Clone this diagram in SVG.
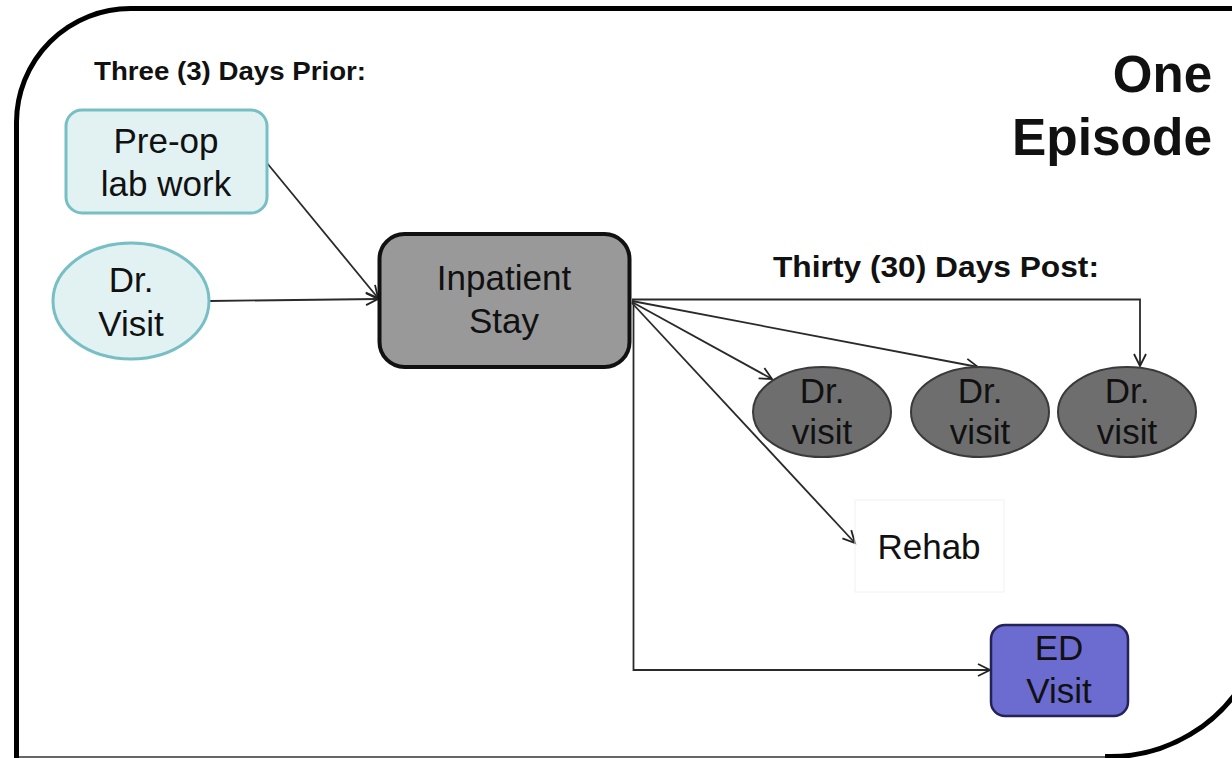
<svg xmlns="http://www.w3.org/2000/svg" width="1232" height="758" viewBox="0 0 1232 758">
<defs>
<marker id="arr" markerUnits="userSpaceOnUse" markerWidth="16" markerHeight="16" refX="13" refY="7" orient="auto">
<path d="M1,1 L13,7 L1,13" fill="none" stroke="#222" stroke-width="1.8"/>
</marker>
<style>
text{font-family:"Liberation Sans",Arial,sans-serif;fill:#111;text-anchor:middle}
.node{font-size:35px}
.hdr{font-weight:bold;text-anchor:start}
.conn{fill:none;stroke:#2a2a2a;stroke-width:1.8}
.teal{fill:#e2f2f3;stroke:#77bfc4;stroke-width:3}
.dark{fill:#6e6e6e;stroke:#3a3a3a;stroke-width:2}
</style>
</defs>
<rect width="1232" height="758" fill="#fff"/>
<g id="frame">
<path d="M16.5 758 L16.5 122 A114 114 0 0 1 130.5 8.5 L1240 8.5" fill="none" stroke="#000" stroke-width="5"/>
<line x1="19" y1="757" x2="1112" y2="757" stroke="#666" stroke-width="2"/>
<path d="M1105 756.5 A156 156 0 0 0 1250 669.8" fill="none" stroke="#000" stroke-width="5"/>
</g>
<g id="labels">
<text class="hdr" x="94" y="80" font-size="26" textLength="272" lengthAdjust="spacingAndGlyphs">Three (3) Days Prior:</text>
<text class="hdr" x="773" y="277" font-size="29" textLength="326" lengthAdjust="spacingAndGlyphs">Thirty (30) Days Post:</text>
<text x="1212" y="92" font-size="51" font-weight="bold" style="text-anchor:end">One</text>
<text x="1212" y="155" font-size="51" font-weight="bold" style="text-anchor:end" textLength="200" lengthAdjust="spacingAndGlyphs">Episode</text>
</g>
<g id="connectors">
<line class="conn" x1="267" y1="163" x2="378" y2="298" marker-end="url(#arr)"/>
<line class="conn" x1="210" y1="301" x2="378" y2="299" marker-end="url(#arr)"/>
<path class="conn" d="M632 299.5 H1140 V366" marker-end="url(#arr)"/>
<line class="conn" x1="632" y1="301" x2="978" y2="367" marker-end="url(#arr)"/>
<line class="conn" x1="632" y1="302" x2="772" y2="379" marker-end="url(#arr)"/>
<line class="conn" x1="632" y1="303" x2="855" y2="543" marker-end="url(#arr)"/>
<path class="conn" d="M633.5 300 V670 H990" marker-end="url(#arr)"/>
</g>
<g id="preop">
<rect class="teal" x="66" y="110" width="201" height="103" rx="16"/>
<text class="node" x="166" y="153">Pre-op</text>
<text class="node" x="166" y="196">lab work</text>
</g>
<g id="drvisit-pre">
<ellipse class="teal" cx="131" cy="301" rx="78" ry="58"/>
<text class="node" x="131" y="292">Dr.</text>
<text class="node" x="131" y="336">Visit</text>
</g>
<g id="inpatient">
<rect x="379.5" y="234" width="250" height="133" rx="25" fill="#999" stroke="#111" stroke-width="4"/>
<text class="node" x="504" y="290">Inpatient</text>
<text class="node" x="504" y="333">Stay</text>
</g>
<g id="drvisit1">
<ellipse class="dark" cx="822" cy="412" rx="69" ry="45"/>
<text class="node" x="822" y="403">Dr.</text>
<text class="node" x="822" y="444">visit</text>
</g>
<g id="drvisit2">
<ellipse class="dark" cx="980" cy="412" rx="69" ry="45"/>
<text class="node" x="980" y="403">Dr.</text>
<text class="node" x="980" y="444">visit</text>
</g>
<g id="drvisit3">
<ellipse class="dark" cx="1127" cy="412" rx="69" ry="45"/>
<text class="node" x="1127" y="403">Dr.</text>
<text class="node" x="1127" y="444">visit</text>
</g>
<g id="rehab">
<rect x="855" y="500" width="149" height="92" fill="none" stroke="#f2f2f2" stroke-width="1"/>
<text class="node" x="929" y="559">Rehab</text>
</g>
<g id="ed">
<rect x="991" y="625" width="137" height="91" rx="14" fill="#6b6bd0" stroke="#23235a" stroke-width="2.5"/>
<text class="node" x="1059" y="660">ED</text>
<text class="node" x="1059" y="703">Visit</text>
</g>
</svg>
